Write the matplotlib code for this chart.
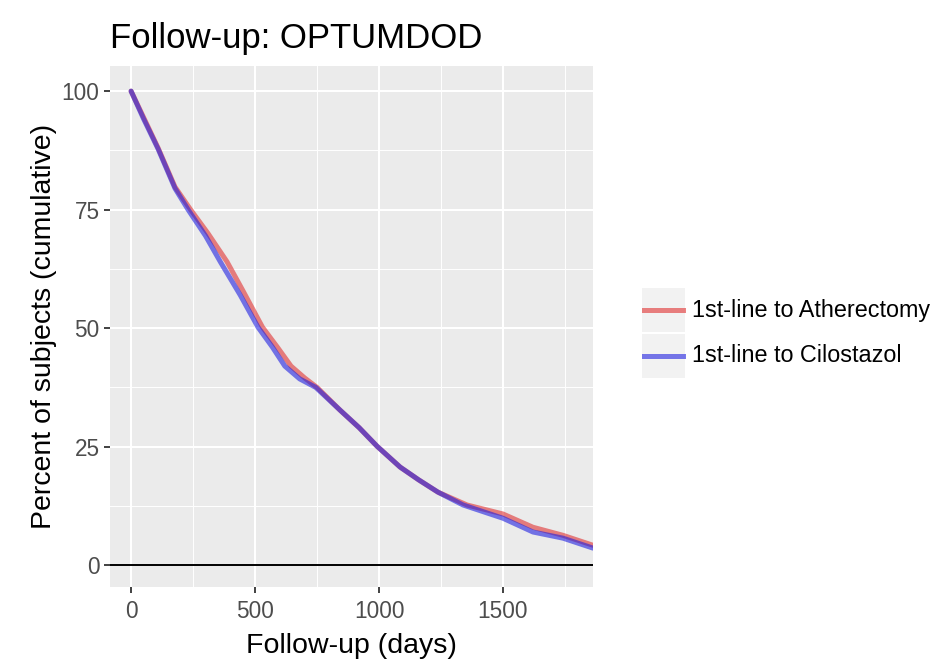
import matplotlib
matplotlib.use("Agg")
import matplotlib.pyplot as plt
from matplotlib.lines import Line2D
from matplotlib.patches import Rectangle
from matplotlib.ticker import MultipleLocator

plt.rcParams["font.family"] = ["Liberation Sans", "DejaVu Sans"]

# cumulative percent of subjects still in follow-up, by day
days_ath = [0, 50, 109, 177, 240, 310, 387, 450, 530, 590, 645, 700, 750,
            843, 920, 992, 1085, 1160, 1238, 1355, 1500, 1621, 1742, 1863]
pct_ath = [100, 94.5, 88, 79.8, 75, 70, 64, 58, 50.2, 46, 42, 39.5, 37.5,
           32.7, 29, 25.1, 20.7, 18, 15.4, 12.7, 10.8, 8.0, 6.3, 4.2]

days_cil = [0, 50, 109, 177, 230, 300, 360, 440, 512, 570, 620, 680, 745,
            843, 920, 992, 1085, 1160, 1238, 1339, 1500, 1621, 1742, 1863]
pct_cil = [100, 94.2, 87.8, 79.5, 75, 69.5, 64, 57, 50.2, 46, 42, 39.3, 37.5,
           32.7, 29, 25.1, 20.7, 18, 15.4, 12.7, 9.9, 7.0, 5.7, 3.6]

labels = ["1st-line to Atherectomy", "1st-line to Cilostazol"]
colors = ["#E03030", "#2020E0"]

W, H = 935, 662


def fx(px):
    return px / W


def fy(py):
    # pixel rows counted from the top
    return 1 - py / H


fig = plt.figure(figsize=(W / 100, H / 100), dpi=100)
ax = fig.add_axes([fx(110), fy(587), fx(483), 521 / H])
ax.set_facecolor("#EBEBEB")

ax.plot(days_ath, pct_ath, color=colors[0], alpha=0.6, lw=3.6,
        solid_capstyle="round", zorder=3)
ax.plot(days_cil, pct_cil, color=colors[1], alpha=0.6, lw=3.6,
        solid_capstyle="round", zorder=3)
ax.axhline(0, color="black", lw=1.4, zorder=4)

ax.set_xlim(-85, 1863)
ax.set_ylim(-4.6, 105.3)
ax.xaxis.set_major_locator(MultipleLocator(500))
ax.xaxis.set_minor_locator(MultipleLocator(250))
ax.yaxis.set_major_locator(MultipleLocator(25))
ax.yaxis.set_minor_locator(MultipleLocator(12.5))
ax.grid(which="major", color="white", lw=1.5, zorder=0)
ax.grid(which="minor", color="white", lw=0.7, zorder=0)
ax.set_axisbelow(True)
for s in ax.spines.values():
    s.set_visible(False)

ax.tick_params(which="major", length=4.5, width=1.3, color="#333333",
               labelsize=16.3, labelcolor="#4D4D4D", pad=3)
ax.tick_params(axis="x", pad=4.5)
ax.tick_params(which="minor", length=0)

fig.text(fx(351), fy(653), "Follow-up (days)", fontsize=20.5, ha="center", va="baseline")
fig.text(fx(44), fy(326), "Percent of subjects (cumulative)", fontsize=20.5,
         rotation=90, ha="center", va="center")
fig.text(fx(110), fy(48), "Follow-up: OPTUMDOD", fontsize=25, ha="left", va="baseline")

# legend: grey key boxes with a line sample, label to the right
key_top = [288, 334]
for top, lab, col in zip(key_top, labels, colors):
    fig.add_artist(Rectangle((fx(642), fy(top + 44)), fx(43), 44 / H,
                             facecolor="#F2F2F2", edgecolor="none"))
    mid = top + 22
    fig.add_artist(Line2D([fx(644), fx(683)], [fy(mid), fy(mid)], color=col,
                          alpha=0.6, lw=3.6))
    fig.text(fx(692), fy(mid), lab, fontsize=16.8, ha="left", va="center")

fig.savefig("out.png", dpi=100)
